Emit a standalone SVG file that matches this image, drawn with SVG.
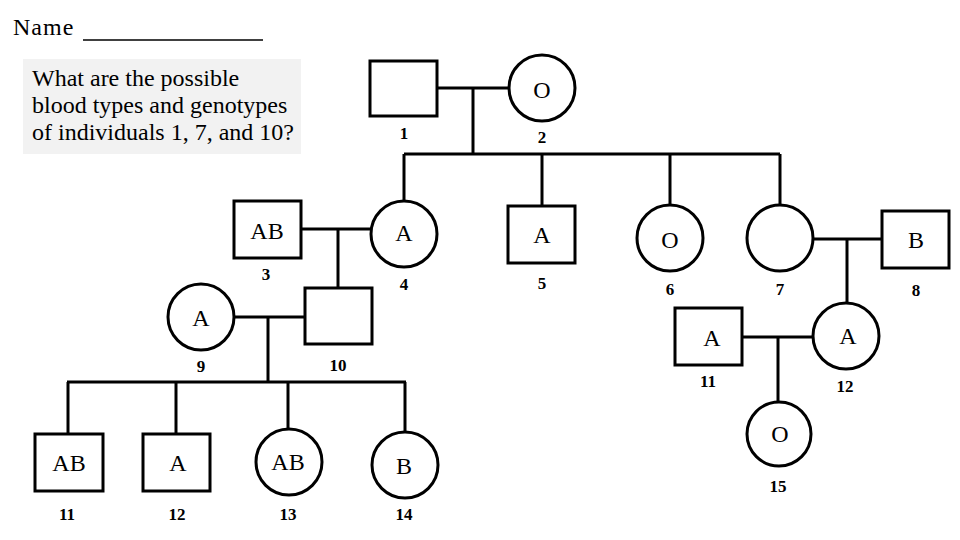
<svg xmlns="http://www.w3.org/2000/svg" width="960" height="540" viewBox="0 0 960 540">
<style>
.n{fill:#fff;stroke:#000;stroke-width:3}
.c line{stroke:#000;stroke-width:3;fill:none}
text{font-family:'Liberation Serif','Times New Roman','DejaVu Serif',serif;fill:#000}
.t{font-size:24px;text-anchor:middle;dominant-baseline:central}
.num{font-size:17px;font-weight:bold;text-anchor:middle;dominant-baseline:central}
.q{font-size:24px}
</style>
<rect width="960" height="540" fill="#fff"/>
<text class="q" x="13" y="35" font-size="23" letter-spacing="1">Name</text>
<line x1="83" y1="40" x2="263" y2="40" stroke="#000" stroke-width="1.3"/>
<rect x="23" y="59" width="278" height="95" fill="#f2f2f2"/>
<text class="q" x="32" y="86">What are the possible</text>
<text class="q" x="32" y="113">blood types and genotypes</text>
<text class="q" x="32" y="140">of individuals 1, 7, and 10?</text>
<g class="c" id="connectors">
<line x1="437" y1="88" x2="509" y2="88"/>
<line x1="473" y1="88" x2="473" y2="154"/>
<line x1="404" y1="154" x2="780" y2="154"/>
<line x1="404" y1="154" x2="404" y2="202"/>
<line x1="542" y1="154" x2="542" y2="206"/>
<line x1="670" y1="154" x2="670" y2="206"/>
<line x1="780" y1="154" x2="780" y2="206"/>
<line x1="813" y1="239" x2="882" y2="239"/>
<line x1="847" y1="239" x2="847" y2="304"/>
<line x1="301" y1="229" x2="371" y2="229"/>
<line x1="338" y1="229" x2="338" y2="288"/>
<line x1="234" y1="317" x2="305" y2="317"/>
<line x1="268" y1="317" x2="268" y2="382"/>
<line x1="67" y1="382" x2="406" y2="382"/>
<line x1="68" y1="382" x2="68" y2="434"/>
<line x1="176" y1="382" x2="176" y2="434"/>
<line x1="288" y1="382" x2="288" y2="431"/>
<line x1="405" y1="382" x2="405" y2="433"/>
<line x1="742" y1="337" x2="813" y2="337"/>
<line x1="778" y1="337" x2="778" y2="402"/>
</g>
<g id="n1"><rect class="n" x="370" y="61" width="67" height="55"/><text class="num" x="404" y="133">1</text></g>
<g id="n2"><circle class="n" cx="542" cy="88" r="33"/><text class="t" x="542" y="90">O</text><text class="num" x="542" y="137">2</text></g>
<g id="n3"><rect class="n" x="234" y="201" width="67" height="57"/><text class="t" x="267" y="231">AB</text><text class="num" x="266" y="274">3</text></g>
<g id="n4"><circle class="n" cx="404" cy="234" r="33"/><text class="t" x="404" y="233">A</text><text class="num" x="404" y="284">4</text></g>
<g id="n5"><rect class="n" x="508" y="206" width="67" height="57"/><text class="t" x="542" y="235">A</text><text class="num" x="542" y="283">5</text></g>
<g id="n6"><circle class="n" cx="670" cy="238" r="33"/><text class="t" x="670" y="240">O</text><text class="num" x="670" y="289">6</text></g>
<g id="n7"><circle class="n" cx="780" cy="238" r="33"/><text class="num" x="780" y="289">7</text></g>
<g id="n8"><rect class="n" x="882" y="211" width="67" height="57"/><text class="t" x="916" y="240">B</text><text class="num" x="916" y="290">8</text></g>
<g id="n9"><circle class="n" cx="201" cy="317" r="33"/><text class="t" x="201" y="318">A</text><text class="num" x="201" y="366">9</text></g>
<g id="n10"><rect class="n" x="305" y="288" width="67" height="56"/><text class="num" x="338" y="365">10</text></g>
<g id="n11b"><rect class="n" x="35" y="434" width="68" height="57"/><text class="t" x="69" y="463">AB</text><text class="num" x="67" y="514">11</text></g>
<g id="n12b"><rect class="n" x="143" y="434" width="67" height="57"/><text class="t" x="178" y="463">A</text><text class="num" x="177" y="514">12</text></g>
<g id="n13"><circle class="n" cx="289" cy="462" r="33"/><text class="t" x="288" y="462">AB</text><text class="num" x="288" y="514">13</text></g>
<g id="n14"><circle class="n" cx="405" cy="465" r="33"/><text class="t" x="404" y="466">B</text><text class="num" x="404" y="514">14</text></g>
<g id="n11"><rect class="n" x="675" y="308" width="67" height="57"/><text class="t" x="712" y="338">A</text><text class="num" x="708" y="381">11</text></g>
<g id="n12"><circle class="n" cx="846" cy="336" r="33"/><text class="t" x="848" y="336">A</text><text class="num" x="845" y="386">12</text></g>
<g id="n15"><circle class="n" cx="779" cy="434" r="32"/><text class="t" x="780" y="434">O</text><text class="num" x="778" y="486">15</text></g>
</svg>
